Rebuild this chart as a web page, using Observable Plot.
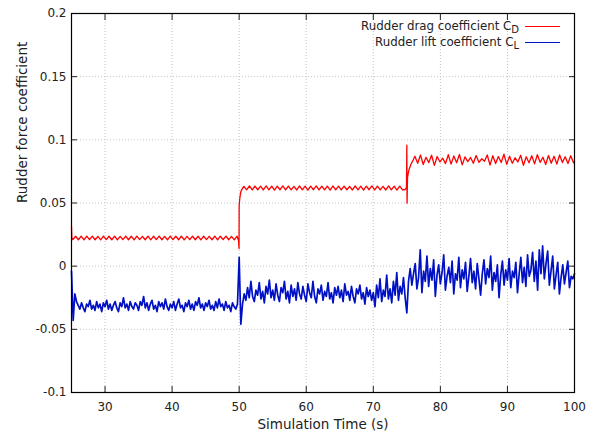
<!DOCTYPE html>
<html><head><meta charset="utf-8">
<script src="https://cdn.jsdelivr.net/npm/d3@7"></script>
<script src="https://cdn.jsdelivr.net/npm/@observablehq/plot@0.6"></script>
<style>
body{margin:0;background:#fff;}
#wrap{position:relative;width:592px;height:439px;font-family:"DejaVu Sans",sans-serif;}
#legend{position:absolute;right:32px;top:18px;font-size:11.8px;color:#222;}
#legend .row{display:flex;align-items:center;justify-content:flex-end;height:16px;}
#legend .sw{display:inline-block;width:35px;margin-left:6px;height:0;}
#legend sub{font-size:0.85em;vertical-align:-3px;line-height:0;}
</style></head><body><div id="wrap"></div>
<script>
const xTicks = [30, 40, 50, 60, 70, 80, 90, 100];
const yTicks = [-0.1, -0.05, 0, 0.05, 0.1, 0.15, 0.2];
const xTitle = "Simulation Time (s)";
const yTitle = "Rudder force coefficient";
const seriesNames = ["Rudder drag coefficient C", "Rudder lift coefficient C"];
const seriesSubs = ["D", "L"];
const seriesColors = ["#ff0000", "#0010c4"];

// ---- Drag coefficient C_D ----
const dragStartT = [25.0, 25.05];
const dragStartV = [0.0315, 0.0225];
const dragDt = 0.415;
const dragSeg1T0 = 25.2;
const dragSeg1 = [
0.0210,0.0237,0.0209,0.0238,0.0208,0.0237,0.0210,0.0238,0.0209,0.0236,
0.0208,0.0238,0.0210,0.0237,0.0209,0.0238,0.0208,0.0236,0.0210,0.0238,
0.0209,0.0237,0.0208,0.0238,0.0210,0.0236,0.0209,0.0238,0.0208,0.0237,
0.0210,0.0238,0.0209,0.0236,0.0208,0.0238,0.0210,0.0237,0.0209,0.0238,
0.0208,0.0236,0.0210,0.0238,0.0209,0.0237,0.0208,0.0238,0.0210,0.0236,
0.0209,0.0238,0.0208,0.0237,0.0210,0.0238,0.0209,0.0236,0.0208,0.0237];
const dragJump50T = [49.9, 49.98, 50.0, 50.1, 50.25, 50.45];
const dragJump50V = [0.0205, 0.0140, 0.0480, 0.0540, 0.0590, 0.0612];
const dragSeg2T0 = 50.7;
const dragSeg2 = [
0.0632,0.0604,0.0635,0.0603,0.0634,0.0605,0.0633,0.0603,0.0635,0.0604,
0.0634,0.0602,0.0633,0.0605,0.0635,0.0603,0.0634,0.0604,0.0632,0.0603,
0.0635,0.0604,0.0633,0.0602,0.0634,0.0605,0.0635,0.0603,0.0633,0.0604,
0.0634,0.0602,0.0635,0.0604,0.0633,0.0603,0.0634,0.0605,0.0632,0.0603,
0.0635,0.0604,0.0634,0.0602,0.0633,0.0605,0.0635,0.0603,0.0634,0.0604,
0.0632,0.0603,0.0635,0.0604,0.0633,0.0602,0.0634,0.0605];
const dragJump75T = [74.75, 74.95, 75.0, 75.03, 75.1, 75.3, 75.6, 75.9];
const dragJump75V = [0.0606, 0.0625, 0.0958, 0.0499, 0.0700, 0.0760, 0.0805, 0.0835];
const dragSeg3T0 = 76.2;
const dragSeg3 = [
0.0870,0.0815,0.0880,0.0805,0.0862,0.0820,0.0878,0.0798,0.0868,0.0825,
0.0855,0.0812,0.0882,0.0808,0.0872,0.0818,0.0884,0.0802,0.0865,0.0828,
0.0860,0.0815,0.0876,0.0822,0.0850,0.0830,0.0880,0.0800,0.0874,0.0812,
0.0868,0.0820,0.0886,0.0806,0.0870,0.0815,0.0858,0.0825,0.0878,0.0798,
0.0866,0.0818,0.0874,0.0810,0.0882,0.0822,0.0862,0.0805,0.0876,0.0815,
0.0870,0.0808,0.0880,0.0820,0.0866,0.0812,0.0874,0.0818];
const dragEndT = [100];
const dragEndV = [0.0830];

// ---- Lift coefficient C_L (sampled every 0.25 s from t = 25) ----
const liftT0 = 25, liftDt = 0.25;
const lift = [
-0.004,-0.043,-0.022,-0.028,-0.031,-0.034,-0.029,-0.033,-0.036,-0.030,-0.032,-0.027,-0.034,-0.031,-0.035,-0.028,-0.033,-0.030,-0.036,-0.029,
-0.032,-0.027,-0.034,-0.030,-0.035,-0.031,-0.028,-0.033,-0.036,-0.029,-0.032,-0.025,-0.033,-0.030,-0.035,-0.028,-0.032,-0.034,-0.029,-0.031,
-0.035,-0.028,-0.031,-0.024,-0.033,-0.029,-0.035,-0.030,-0.027,-0.034,-0.031,-0.036,-0.028,-0.032,-0.029,-0.034,-0.026,-0.032,-0.035,-0.030,
-0.033,-0.028,-0.035,-0.030,-0.026,-0.033,-0.031,-0.036,-0.029,-0.032,-0.027,-0.034,-0.030,-0.035,-0.028,-0.031,-0.025,-0.033,-0.030,-0.035,
-0.029,-0.032,-0.027,-0.034,-0.031,-0.035,-0.028,-0.033,-0.026,-0.032,-0.030,-0.035,-0.028,-0.033,-0.031,-0.036,-0.029,-0.032,-0.034,-0.030,
0.007,-0.046,-0.030,-0.022,-0.027,-0.017,-0.025,-0.012,-0.024,-0.028,-0.019,-0.023,-0.013,-0.026,-0.020,-0.029,-0.016,-0.022,-0.011,-0.025,
-0.019,-0.027,-0.014,-0.023,-0.028,-0.017,-0.021,-0.012,-0.026,-0.020,-0.029,-0.015,-0.024,-0.018,-0.027,-0.013,-0.022,-0.026,-0.016,-0.023,
-0.028,-0.014,-0.021,-0.025,-0.012,-0.024,-0.029,-0.018,-0.022,-0.015,-0.027,-0.020,-0.024,-0.013,-0.026,-0.021,-0.029,-0.017,-0.023,-0.016,
-0.025,-0.019,-0.028,-0.014,-0.023,-0.020,-0.027,-0.016,-0.024,-0.029,-0.018,-0.022,-0.015,-0.026,-0.021,-0.030,-0.017,-0.024,-0.019,-0.027,
-0.021,-0.032,-0.015,-0.025,-0.010,-0.028,-0.019,-0.024,-0.007,-0.026,-0.018,-0.029,-0.012,-0.023,-0.005,-0.027,-0.016,-0.022,-0.009,-0.025,
-0.037,-0.012,-0.002,-0.015,-0.006,0.002,-0.018,-0.009,0.013,-0.021,-0.004,-0.012,0.008,-0.016,-0.002,-0.011,0.005,-0.024,-0.007,0.001,
-0.014,-0.005,0.009,-0.019,-0.008,-0.001,-0.013,0.004,-0.022,-0.006,-0.011,0.007,-0.017,-0.003,-0.010,0.003,-0.020,-0.008,0.006,-0.013,
-0.004,-0.018,0.002,-0.010,-0.023,-0.006,0.005,-0.014,-0.002,-0.009,0.008,-0.019,-0.005,-0.012,0.001,-0.025,-0.007,0.004,-0.015,-0.003,
-0.011,0.006,-0.017,-0.004,-0.009,0.003,-0.021,-0.006,0.007,-0.013,-0.001,-0.016,0.009,-0.008,-0.003,0.011,-0.012,0.004,-0.019,0.013,
-0.006,0.016,-0.010,0.002,0.012,-0.015,-0.004,0.008,-0.018,-0.007,0.003,-0.022,-0.009,0.001,-0.014,-0.005,0.004,-0.017,-0.008,-0.010,
-0.006];

// ---- build tables ----
const pairs = (ts, vs) => ts.map((t, i) => ({t, v: vs[i]}));
const seg = (t0, dt, vs) => vs.map((v, i) => ({t: t0 + i * dt, v}));
const dragData = [
  ...pairs(dragStartT, dragStartV),
  ...seg(dragSeg1T0, dragDt, dragSeg1),
  ...pairs(dragJump50T, dragJump50V),
  ...seg(dragSeg2T0, dragDt, dragSeg2),
  ...pairs(dragJump75T, dragJump75V),
  ...seg(dragSeg3T0, dragDt, dragSeg3),
  ...pairs(dragEndT, dragEndV)
].sort((a, b) => a.t - b.t);
const liftData = seg(liftT0, liftDt, lift);

const gridStyle = {stroke: "#c4c4c4", strokeOpacity: 1, strokeDasharray: "1,2"};
const chart = Plot.plot({
  width: 592, height: 439,
  marginLeft: 71, marginRight: 18, marginTop: 13, marginBottom: 47,
  style: {fontFamily: "DejaVu Sans, sans-serif", fontSize: "12px", color: "#222", background: "white"},
  x: {domain: [25, 100]},
  y: {domain: [-0.1, 0.2]},
  marks: [
    Plot.gridX(xTicks.filter(t => t < 100), gridStyle),
    Plot.gridY(yTicks.filter(t => t > -0.1 && t < 0.2), gridStyle),
    Plot.axisX(xTicks, {anchor: "bottom", tickSize: 0, tickPadding: 10, tickFormat: d => String(d), label: null}),
    Plot.axisX(xTicks, {anchor: "bottom", tickSize: -6, text: null, label: null}),
    Plot.axisX(xTicks, {anchor: "top", tickSize: -6, text: null, label: null}),
    Plot.axisY(yTicks, {anchor: "left", tickSize: 0, tickPadding: 5, tickFormat: d => String(d), label: null}),
    Plot.axisY(yTicks, {anchor: "left", tickSize: -6, text: null, label: null}),
    Plot.axisY(yTicks, {anchor: "right", tickSize: -6, text: null, label: null}),
    Plot.line(dragData, {x: "t", y: "v", stroke: seriesColors[0], strokeWidth: 1.3}),
    Plot.line(liftData, {x: "t", y: "v", stroke: seriesColors[1], strokeWidth: 1.7}),
    Plot.frame({stroke: "#000", strokeWidth: 1.2}),
    Plot.text([xTitle], {frameAnchor: "bottom", text: d => d, dy: 36, fontSize: 13.5, fill: "#222"}),
    Plot.text([yTitle], {frameAnchor: "left", text: d => d, rotate: -90, dx: -49, fontSize: 13.5, fill: "#222"})
  ]
});
const wrap = document.getElementById("wrap");
wrap.appendChild(chart);

const legend = document.createElement("div");
legend.id = "legend";
seriesNames.forEach((name, i) => {
  const row = document.createElement("div");
  row.className = "row";
  const lab = document.createElement("span");
  lab.textContent = name;
  const sub = document.createElement("sub");
  sub.textContent = seriesSubs[i];
  lab.appendChild(sub);
  const sw = document.createElement("span");
  sw.className = "sw";
  sw.style.borderTop = `1.5px solid ${seriesColors[i]}`;
  row.appendChild(lab);
  row.appendChild(sw);
  legend.appendChild(row);
});
wrap.appendChild(legend);
</script>
</body></html>
